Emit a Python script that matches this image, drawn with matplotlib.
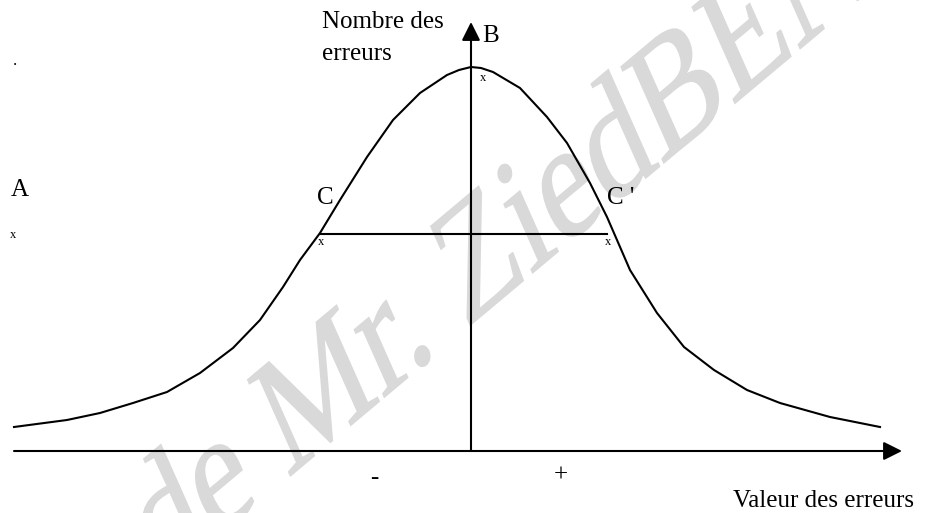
import numpy as np
import matplotlib
matplotlib.use('Agg')
import matplotlib.pyplot as plt
from matplotlib.textpath import TextPath
from matplotlib.patches import PathPatch
from matplotlib.font_manager import FontProperties
from matplotlib.transforms import Affine2D

plt.rc('font', family='Liberation Serif', size=18)

# courbe de Gauss (abscisse : valeur de l'erreur, ordonnee : nombre)
curve_x = [-4.57, -4.04, -3.71, -3.38, -3.04, -2.71, -2.38, -2.11, -1.88, -1.71,
           -1.51, -1.31, -1.04, -0.78, -0.51, -0.24, -0.12, 0.00, 0.10,
           0.22, 0.49, 0.76, 0.96, 1.19, 1.36, 1.46, 1.59, 1.86, 2.13,
           2.43, 2.76, 3.09, 3.59, 4.09]
curve_y = [0.24, 0.31, 0.38, 0.48, 0.59, 0.78, 1.03, 1.31, 1.64, 1.91,
           2.18, 2.51, 2.94, 3.31, 3.58, 3.76, 3.81, 3.84, 3.83,
           3.79, 3.63, 3.34, 3.08, 2.68, 2.34, 2.11, 1.81, 1.38, 1.04,
           0.81, 0.61, 0.48, 0.34, 0.24]

# segment C C'
chord_x = [-1.51, 1.36]
chord_y = [2.17, 2.17]

# axes
x_axis = [-4.57, 4.31]
y_axis = [0.0, 4.29]

watermark = "de Mr. ZiedBENS"

fig = plt.figure(figsize=(9.27, 5.13), dpi=100)
ax = fig.add_axes([0, 0, 1, 1])
ax.set_xlim(-4.71, 4.56)
ax.set_ylim(-0.62, 4.51)
ax.axis('off')

# filigrane : texte tourne de ~31 deg puis etire verticalement (coordonnees en pixels)
tp = TextPath((0, 0), watermark, size=100, prop=FontProperties(family='Liberation Serif'))
wm = Affine2D().rotate_deg(31.4).scale(1.25, 1.25 * 1.373).translate(160, -72)
ax.add_patch(PathPatch(tp, transform=wm, facecolor='#d9d9d9', edgecolor='#d9d9d9',
                       lw=1.2, zorder=0))

ax.plot(curve_x, curve_y, color='black', lw=1.5, zorder=3)
ax.plot(chord_x, chord_y, color='black', lw=1.5, zorder=3)

arrow = dict(arrowstyle='-|>,head_length=0.8,head_width=0.4', lw=1.5, color='black',
             mutation_scale=14, shrinkA=0, shrinkB=0)
ax.annotate('', xy=(x_axis[1], 0), xytext=(x_axis[0], 0), arrowprops=arrow, zorder=3)
ax.annotate('', xy=(0, y_axis[1]), xytext=(0, y_axis[0]), arrowprops=arrow, zorder=3)

labels = dict(zorder=4)
ax.text(-1.49, 4.23, "Nombre des", ha='left', va='baseline', **labels)
ax.text(-1.49, 3.91, "erreurs", ha='left', va='baseline', **labels)
ax.text(0.11, 4.09, "B", ha='left', va='baseline', **labels)
ax.text(0.12, 3.73, "x", fontsize=9, ha='center', va='center', **labels)
ax.text(-1.46, 2.53, "C", ha='center', va='center', **labels)
ax.text(1.36, 2.53, "C '", ha='left', va='center', **labels)
ax.text(-1.50, 2.09, "x", fontsize=9, ha='center', va='center', **labels)
ax.text(1.37, 2.09, "x", fontsize=9, ha='center', va='center', **labels)
ax.text(-4.56, 3.86, ".", fontsize=12, ha='center', va='baseline', **labels)
ax.text(-4.51, 2.61, "A", ha='center', va='center', **labels)
ax.text(-4.58, 2.16, "x", fontsize=9, ha='center', va='center', **labels)
ax.text(-0.97, -0.27, "-", ha='center', va='center', **labels)
ax.text(0.90, -0.25, "+", ha='center', va='center', **labels)
ax.text(2.62, -0.56, "Valeur des erreurs", ha='left', va='baseline', **labels)

fig.savefig('out.png', dpi=100)
